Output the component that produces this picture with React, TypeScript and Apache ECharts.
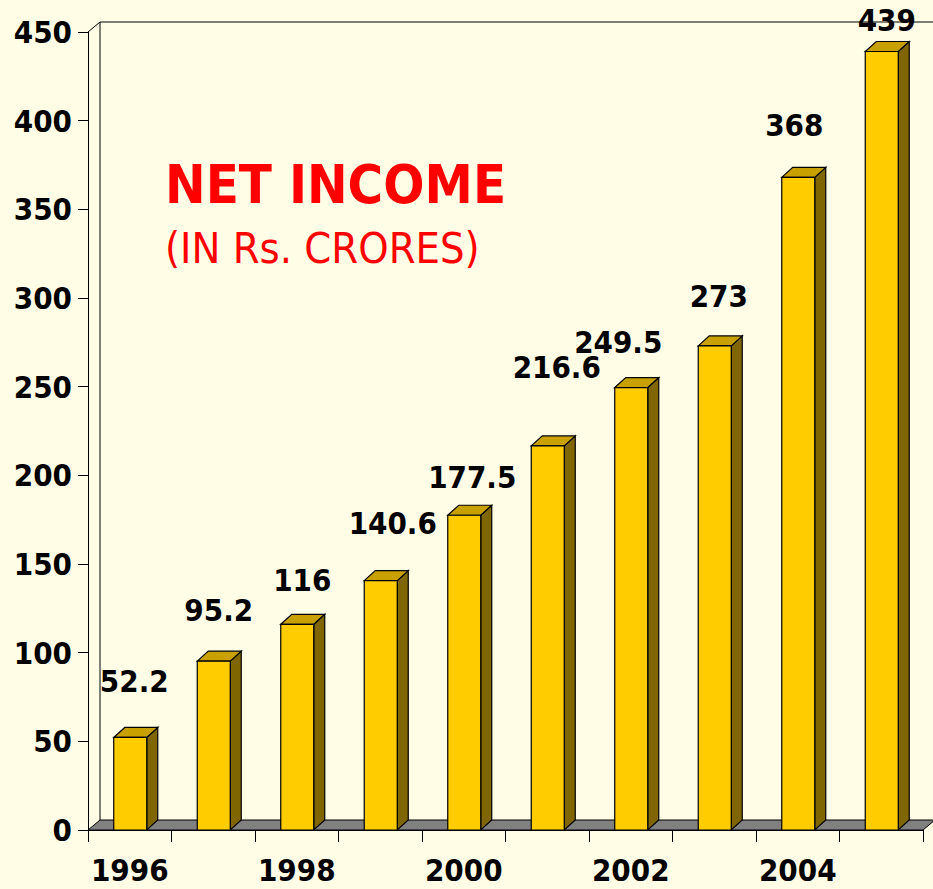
import React, { useEffect, useRef } from "react";
import * as echarts from "echarts";

const years = ["1996", "1997", "1998", "1999", "2000", "2001", "2002", "2003", "2004", "2005"];
const netIncome = [52.2, 95.2, 116, 140.6, 177.5, 216.6, 249.5, 273, 368, 439];
const yMin = 0;
const yMax = 450;
const yStep = 50;

// label placement tweaks (pixels, relative to the bar top) as in the original slide
const labelNudge: [number, number][] = [
  [4, -56], [5, -51], [5, -44], [12, -58], [8, -38],
  [9, -79], [-13, -46], [4, -50], [-4, -52], [5, -32],
];

const FONT = "'DejaVu Sans Condensed', 'DejaVu Sans', sans-serif";
const DX = 11;
const DY = 10;
const BAR_W = 33;

export default function App() {
  const ref = useRef<HTMLDivElement>(null);
  useEffect(() => {
    if (!ref.current) return;
    const chart = echarts.init(ref.current, undefined, { renderer: "svg" });
    const barData = netIncome.map((v, i) => [i, v]);
    chart.setOption({
      animation: false,
      backgroundColor: "#FFFDE6",
      grid: { left: 88, right: 10, top: 32, bottom: 59, containLabel: false },
      xAxis: {
        type: "category",
        data: years,
        boundaryGap: true,
        axisLine: { show: true, lineStyle: { color: "#000", width: 1 } },
        axisTick: { show: true, interval: 0, length: 12, lineStyle: { color: "#000" } },
        axisLabel: {
          interval: 1,
          margin: 24,
          color: "#000",
          fontFamily: FONT,
          fontWeight: "bold",
          fontSize: 31,
        },
        splitLine: { show: false },
      },
      yAxis: {
        type: "value",
        min: yMin,
        max: yMax,
        interval: yStep,
        axisLine: { show: true, lineStyle: { color: "#000", width: 1 } },
        axisTick: { show: true, length: 10, lineStyle: { color: "#000" } },
        axisLabel: {
          margin: 16,
          color: "#000",
          fontFamily: FONT,
          fontWeight: "bold",
          fontSize: 31,
        },
        splitLine: { show: false },
      },
      graphic: [
        {
          type: "text",
          left: 165,
          top: 184 - 27,
          style: {
            text: "NET INCOME",
            fill: "#FF0000",
            fontFamily: FONT,
            fontWeight: "bold",
            fontSize: 54,
          },
        },
        {
          type: "text",
          left: 165,
          top: 251 - 25,
          style: {
            text: "(IN Rs. CRORES)",
            fill: "#FF0000",
            fontFamily: FONT,
            fontWeight: "normal",
            fontSize: 43,
          },
        },
      ],
      series: [
        {
          type: "custom",
          name: "frame",
          silent: true,
          z: 1,
          data: [[0, 0]],
          renderItem: (params: any, api: any) => {
            const cs = params.coordSys;
            const x = cs.x, y = cs.y, w = cs.width, h = cs.height;
            const line = { stroke: "#000", lineWidth: 1, fill: null };
            return {
              type: "group",
              children: [
                {
                  type: "polygon",
                  shape: {
                    points: [
                      [x, y + h],
                      [x + DX + 1, y + h - DY],
                      [x + w + DX + 1, y + h - DY],
                      [x + w, y + h],
                    ],
                  },
                  style: { fill: "#808080", stroke: "#000", lineWidth: 1 },
                },
                { type: "line", shape: { x1: x, y1: y, x2: x + DX + 1, y2: y - DY }, style: line },
                { type: "line", shape: { x1: x + DX + 1, y1: y - DY, x2: x + w + DX + 20, y2: y - DY }, style: line },
                { type: "line", shape: { x1: x + DX + 1, y1: y - DY, x2: x + DX + 1, y2: y + h - DY }, style: line },
              ],
            };
          },
        },
        {
          type: "custom",
          name: "Net income",
          z: 3,
          data: barData,
          renderItem: (params: any, api: any) => {
            const idx = params.dataIndex;
            const cat = api.value(0);
            const v = api.value(1);
            const top = api.coord([cat, v]);
            const base = api.coord([cat, 0]);
            const x0 = top[0] - BAR_W / 2 + 0.5;
            const x1 = x0 + BAR_W;
            const yt = top[1];
            const yb = base[1];
            const nudge = labelNudge[idx] || [0, -50];
            const edge = { stroke: "#000", lineWidth: 1.2 };
            return {
              type: "group",
              children: [
                {
                  type: "polygon",
                  shape: { points: [[x1, yt], [x1 + DX, yt - DY], [x1 + DX, yb - DY], [x1, yb]] },
                  style: { fill: "#806600", ...edge },
                },
                {
                  type: "polygon",
                  shape: { points: [[x0, yt], [x0 + DX, yt - DY], [x1 + DX, yt - DY], [x1, yt]] },
                  style: { fill: "#C8A000", ...edge },
                },
                {
                  type: "rect",
                  shape: { x: x0, y: yt, width: BAR_W, height: yb - yt },
                  style: { fill: "#FFCC00", ...edge },
                },
                {
                  type: "text",
                  x: (x0 + x1) / 2 + nudge[0],
                  y: yt + nudge[1],
                  style: {
                    text: String(netIncome[idx]),
                    fill: "#000",
                    fontFamily: FONT,
                    fontWeight: "bold",
                    fontSize: 31,
                    align: "center",
                    verticalAlign: "middle",
                  },
                },
              ],
            };
          },
        },
      ],
    });
    return () => chart.dispose();
  }, []);
  return (
    <div
      ref={ref}
      style={{ position: "fixed", left: 0, top: 0, width: 933, height: 889 }}
    />
  );
}
